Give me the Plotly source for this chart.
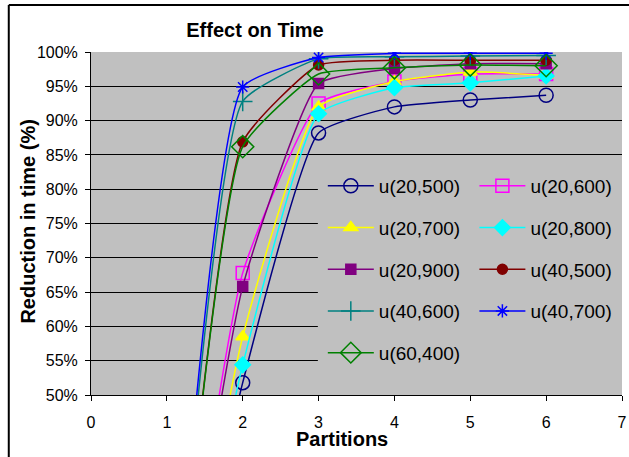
import plotly.graph_objects as go

partitions = [1, 2, 3, 4, 5, 6]
series_names = ["u(20,500)", "u(20,600)", "u(20,700)", "u(20,800)", "u(20,900)",
                "u(40,500)", "u(40,600)", "u(40,700)", "u(60,400)"]
u20_500 = [0.0, 0.518, 0.882, 0.920, 0.930, 0.937]
u20_600 = [0.0, 0.678, 0.925, 0.957, 0.968, 0.968]
u20_700 = [0.0, 0.585, 0.920, 0.957, 0.971, 0.966]
u20_800 = [0.0, 0.544, 0.910, 0.948, 0.955, 0.965]
u20_900 = [0.0, 0.658, 0.954, 0.976, 0.983, 0.983]
u40_500 = [0.0, 0.869, 0.981, 0.988, 0.988, 0.988]
u40_600 = [0.0, 0.928, 0.990, 0.993, 0.994, 0.995]
u40_700 = [0.0, 0.949, 0.992, 0.998, 0.998, 0.998]
u60_400 = [0.0, 0.862, 0.968, 0.977, 0.981, 0.980]
values = [u20_500, u20_600, u20_700, u20_800, u20_900, u40_500, u40_600, u40_700, u60_400]

colors = ["#000080", "#FF00FF", "#FFFF00", "#00FFFF", "#800080",
          "#800000", "#008080", "#0000FF", "#008000"]
symbols = ["circle-open", "square-open", "triangle-up", "diamond", "square",
           "circle", "cross-thin-open", "asterisk-open", "diamond-open"]
sizes = [14, 13, 12, 12, 10, 10, 14, 11, 17]
legend_of = ["legend", "legend2", "legend", "legend2", "legend",
             "legend2", "legend", "legend2", "legend"]

FONT = "Arial, Liberation Sans, sans-serif"

fig = go.Figure()
for name, ys, c, s, sz, lg in zip(series_names, values, colors, symbols, sizes, legend_of):
    fig.add_trace(go.Scatter(
        x=partitions, y=ys, name=name, mode="lines+markers",
        line=dict(color=c, width=1.5, shape="spline", smoothing=0.45),
        marker=dict(symbol=s, size=sz, color=c, line=dict(color=c, width=1.5)),
        legend=lg, legendgroup=name,
    ))

W, H = 629, 457
L, R, T, B = 91, 2, 52, 62
pw, ph = W - L - R, H - T - B

def px_x(p):
    return (p - L) / pw

def px_y(p):
    return 1 - (p - T) / ph

fig.update_layout(
    width=W, height=H,
    margin=dict(l=L, r=R, t=T, b=B),
    paper_bgcolor="white",
    plot_bgcolor="#C0C0C0",
    font=dict(family=FONT, size=16, color="black"),
    title=dict(text="Effect on Time", x=255 / W, xanchor="center",
               y=1 - 30 / H, yanchor="middle",
               font=dict(family=FONT, size=20, weight="bold")),
    xaxis=dict(range=[0, 7], dtick=1, tick0=0, showgrid=False, zeroline=False,
               showline=True, linecolor="black", linewidth=1,
               ticks="outside", ticklen=5, tickcolor="black",
               ticklabelstandoff=8, ticklabeloverflow="allow",
               tickfont=dict(size=16)),
    yaxis=dict(range=[0.5, 1.0], dtick=0.05, tick0=0.5, tickformat=".0%",
               showgrid=True, gridcolor="black", gridwidth=1, zeroline=False,
               showline=True, linecolor="black", linewidth=1,
               ticks="outside", ticklen=5, tickcolor="black",
               ticklabelstandoff=4, tickfont=dict(size=16)),
    legend=dict(x=px_x(325), y=px_y(167), xanchor="left", yanchor="top",
                bgcolor="rgba(0,0,0,0)", borderwidth=0, itemwidth=46,
                tracegroupgap=14, font=dict(size=19), orientation="v"),
    legend2=dict(x=px_x(478), y=px_y(167), xanchor="left", yanchor="top",
                 bgcolor="rgba(0,0,0,0)", borderwidth=0, itemwidth=46,
                 tracegroupgap=14, font=dict(size=19), orientation="v"),
    showlegend=True,
)

fig.add_shape(type="rect", xref="paper", yref="paper",
              x0=px_x(320), x1=1.0, y0=px_y(375), y1=px_y(167),
              fillcolor="#C0C0C0", line=dict(width=0), layer="above")
fig.add_shape(type="line", xref="paper", yref="paper",
              x0=px_x(8), x1=px_x(640), y0=px_y(5), y1=px_y(5),
              line=dict(color="black", width=2))
fig.add_shape(type="line", xref="paper", yref="paper",
              x0=px_x(8), x1=px_x(8), y0=px_y(5), y1=px_y(470),
              line=dict(color="black", width=2))

fig.add_annotation(text="Partitions", xref="paper", yref="paper",
                   x=px_x(344), y=px_y(439), xanchor="center", yanchor="middle",
                   showarrow=False, font=dict(family=FONT, size=20, weight="bold"))
fig.add_annotation(text="Reduction in time (%)", xref="paper", yref="paper",
                   x=px_x(27), y=px_y(222), xanchor="center", yanchor="middle",
                   textangle=-90, showarrow=False,
                   font=dict(family=FONT, size=20, weight="bold"))

fig.write_html("out.html")
